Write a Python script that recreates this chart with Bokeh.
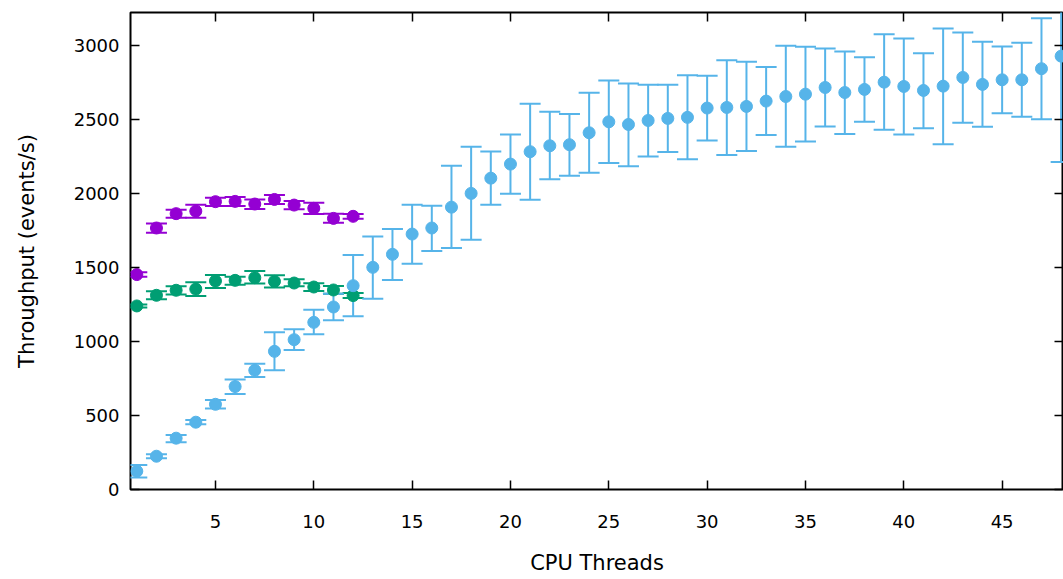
from bokeh.plotting import figure
from bokeh.models import ColumnDataSource, Whisker, TeeHead, LinearAxis, FixedTicker, Range1d
from bokeh.embed import file_html
from bokeh.resources import INLINE

# ---- data ----
threads_a = [1, 2, 3, 4, 5, 6, 7, 8, 9, 10, 11, 12]
purple_y = [1453, 1768, 1865, 1882, 1946, 1948, 1930, 1961, 1923, 1901, 1833, 1847]
purple_lo = [1438, 1736, 1838, 1838, 1916, 1916, 1896, 1930, 1894, 1862, 1804, 1831]
purple_hi = [1468, 1799, 1892, 1926, 1973, 1977, 1961, 1991, 1950, 1939, 1865, 1862]

green_y = [1241, 1313, 1347, 1355, 1410, 1414, 1432, 1407, 1396, 1369, 1349, 1311]
green_lo = [1231, 1286, 1318, 1308, 1362, 1385, 1392, 1365, 1374, 1342, 1324, 1295]
green_hi = [1251, 1340, 1374, 1401, 1450, 1439, 1477, 1448, 1421, 1394, 1376, 1328]

threads_b = [1, 2, 3, 4, 5, 6, 7, 8, 9, 10, 11, 12, 13, 14, 15, 16, 17, 18, 19, 20,
             21, 22, 23, 24, 25, 26, 27, 28, 29, 30, 31, 32, 33, 34, 35, 36, 37, 38,
             39, 40, 41, 42, 43, 44, 45, 46, 47, 48]
blue_y = [124, 225, 347, 455, 576, 696, 806, 934, 1013, 1130, 1234, 1378, 1502, 1590,
          1727, 1768, 1909, 2002, 2105, 2200, 2284, 2324, 2331, 2412, 2486, 2468, 2495,
          2509, 2516, 2579, 2583, 2590, 2626, 2657, 2673, 2718, 2684, 2705, 2754, 2725,
          2698, 2727, 2786, 2739, 2770, 2770, 2845, 2930]
blue_lo = [81, 212, 320, 441, 547, 646, 761, 806, 943, 1049, 1144, 1171, 1290, 1416,
           1527, 1612, 1632, 1689, 1926, 2000, 1959, 2097, 2122, 2142, 2207, 2186, 2252,
           2281, 2232, 2360, 2261, 2288, 2396, 2318, 2353, 2455, 2403, 2486, 2432, 2401,
           2443, 2335, 2480, 2453, 2543, 2520, 2504, 2214]
blue_hi = [166, 238, 369, 470, 605, 743, 851, 1063, 1083, 1216, 1324, 1585, 1711, 1761,
           1926, 1919, 2189, 2318, 2286, 2401, 2608, 2554, 2538, 2682, 2765, 2745, 2736,
           2736, 2800, 2797, 2903, 2892, 2856, 3000, 2993, 2982, 2961, 2923, 3078, 3049,
           2950, 3117, 3090, 3027, 2995, 3020, 3186, 3300]

x_ticks = [5, 10, 15, 20, 25, 30, 35, 40, 45]
y_ticks = [0, 500, 1000, 1500, 2000, 2500, 3000]

x_title = "CPU Threads"
y_title = "Throughput (events/s)"

PURPLE = "#9400d3"
GREEN = "#009e73"
BLUE = "#56b4e9"

TICK_FONT = "DejaVu Sans"
LABEL_FONT = "DejaVu Sans"

p = figure(width=1063, height=579, output_backend="svg", toolbar_location=None,
           x_range=Range1d(0.68, 48.12), y_range=Range1d(0, 3225),
           min_border_left=130, min_border_right=0, min_border_top=12, min_border_bottom=90)
p.xgrid.visible = False
p.ygrid.visible = False
p.outline_line_color = "black"
p.outline_line_width = 2
p.background_fill_color = "white"
p.border_fill_color = "white"


def style_axis(ax, ticks, show_labels):
    ax.ticker = FixedTicker(ticks=ticks)
    ax.axis_line_color = None
    ax.major_tick_in = 9
    ax.major_tick_out = 0
    ax.minor_tick_in = 0
    ax.minor_tick_out = 0
    ax.major_tick_line_color = "black"
    ax.major_tick_line_width = 1.5
    if show_labels:
        ax.major_label_text_font = TICK_FONT
        ax.major_label_text_font_size = "18px"
        ax.major_label_text_color = "black"
    else:
        ax.major_label_overrides = {t: "" for t in ticks}
        ax.major_label_text_font_size = "1px"
        ax.major_label_standoff = 0


style_axis(p.xaxis[0], x_ticks, True)
style_axis(p.yaxis[0], y_ticks, True)
p.xaxis[0].major_label_standoff = 25
p.yaxis[0].major_label_standoff = 11
p.xaxis[0].axis_label = x_title
p.yaxis[0].axis_label = y_title
for ax in (p.xaxis[0], p.yaxis[0]):
    ax.axis_label_text_font = LABEL_FONT
    ax.axis_label_text_font_size = "21px"
    ax.axis_label_text_font_style = "normal"
    ax.axis_label_text_color = "black"
p.xaxis[0].axis_label_standoff = 20
p.yaxis[0].axis_label_standoff = 32

top_ax = LinearAxis()
style_axis(top_ax, x_ticks, False)
p.add_layout(top_ax, "above")
right_ax = LinearAxis()
style_axis(right_ax, y_ticks, False)
p.add_layout(right_ax, "right")


def series(xs, ys, lo, hi, color):
    src = ColumnDataSource(dict(x=xs, y=ys, lo=lo, hi=hi))
    w = Whisker(source=src, base="x", upper="hi", lower="lo",
                line_color=color, line_width=2,
                upper_head=TeeHead(size=21, line_color=color, line_width=2),
                lower_head=TeeHead(size=21, line_color=color, line_width=2))
    p.add_layout(w)
    p.scatter("x", "y", source=src, size=12, fill_color=color, line_color=color)


series(threads_a, purple_y, purple_lo, purple_hi, PURPLE)
series(threads_a, green_y, green_lo, green_hi, GREEN)
series(threads_b, blue_y, blue_lo, blue_hi, BLUE)

open("out.html", "w").write(file_html(p, INLINE))
